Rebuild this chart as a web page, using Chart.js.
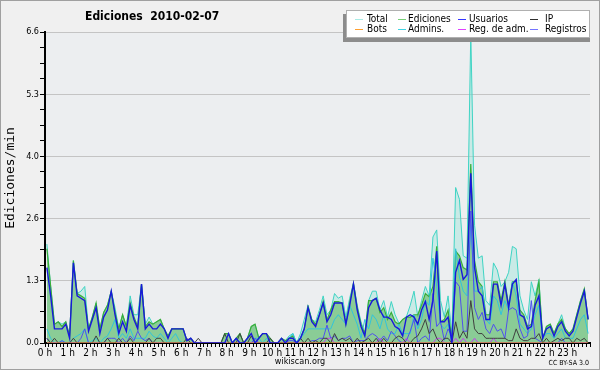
<!DOCTYPE html>
<html>
<head>
<meta charset="utf-8">
<script src="https://cdn.jsdelivr.net/npm/chart.js@4.4.1/dist/chart.umd.min.js"></script>
<style>
  html, body { margin: 0; padding: 0; background: #f0f0f0; }
  #wrap { width: 600px; height: 370px; }
</style>
</head>
<body>
<div id="wrap"><canvas id="chart" width="600" height="370"></canvas></div>
<script>
// one value per 10 minutes, 6 per row = one hour per row
const hourLabels = ["0 h", "1 h", "2 h", "3 h", "4 h", "5 h", "6 h", "7 h", "8 h", "9 h", "10 h", "11 h",
  "12 h", "13 h", "14 h", "15 h", "16 h", "17 h", "18 h", "19 h", "20 h", "21 h", "22 h", "23 h"];
const yTickLabels = ["0.0", "1.3", "2.6", "4.0", "5.3", "6.6"];

const total = [
  2.1, 1.2, 0.4, 0.45, 0.4, 0.45,
  0.15, 1.75, 1.05, 1.1, 1.2, 0.3,
  0.55, 0.85, 0.3, 0.65, 0.8, 1.1,
  0.75, 0.3, 0.6, 0.35, 1.0, 0.6,
  0.6, 1.25, 0.4, 0.55, 0.4, 0.45,
  0.5, 0.3, 0.15, 0.3, 0.3, 0.3,
  0.3, 0.05, 0.1, 0, 0, 0,
  0, 0, 0, 0, 0, 0.2,
  0.2, 0, 0.1, 0.2, 0, 0.1,
  0.35, 0.4, 0.1, 0.2, 0.2, 0.1,
  0, 0, 0.1, 0.05, 0.15, 0.2,
  0, 0.2, 0.5, 0.8, 0.5, 0.45,
  0.7, 1.0, 0.6, 0.7, 1.05, 0.95,
  1.0, 0.55, 0.95, 1.27, 0.8, 0.45,
  0.2, 0.9, 1.1, 1.1, 0.7, 0.9,
  0.55, 0.88, 0.6, 0.42, 0.5, 0.56,
  0.8, 1.1, 0.56, 0.9, 1.2, 1.0,
  2.25, 2.4, 0.9, 0.56, 1.0, 0.2,
  3.3, 3.05, 1.85, 1.8, 6.6, 2.5,
  1.8, 1.85, 0.9, 0.8, 1.7, 1.55,
  1.2, 1.3, 1.5, 2.05, 2.0, 1.0,
  0.7, 0.5, 1.3, 1.0, 1.35, 0.1,
  0.35, 0.4, 0.2, 0.4, 0.6, 0.3,
  0.2, 0.3, 0.6, 0.9, 1.15, 0.5
];

const ediciones = [
  2.0, 1.2, 0.4, 0.45, 0.35, 0.45,
  0.15, 1.75, 1.05, 1.0, 0.95, 0.3,
  0.55, 0.85, 0.3, 0.65, 0.8, 1.1,
  0.65, 0.3, 0.6, 0.35, 0.85, 0.55,
  0.35, 1.25, 0.35, 0.45, 0.4, 0.45,
  0.5, 0.3, 0.15, 0.3, 0.3, 0.3,
  0.3, 0.05, 0.1, 0, 0, 0,
  0, 0, 0, 0, 0, 0.2,
  0.2, 0, 0.1, 0.2, 0, 0.1,
  0.35, 0.4, 0.1, 0.2, 0.2, 0.1,
  0, 0, 0.1, 0.05, 0.1, 0.15,
  0, 0.1, 0.3, 0.77, 0.49, 0.4,
  0.6, 0.88, 0.49, 0.7, 0.88, 0.88,
  0.85, 0.42, 0.85, 1.27, 0.75, 0.4,
  0.2, 0.9, 0.9, 0.95, 0.65, 0.75,
  0.5, 0.65, 0.45, 0.4, 0.5, 0.55,
  0.55, 0.6, 0.6, 0.8, 1.05, 0.98,
  1.2, 2.05, 0.45, 0.5, 0.7, 0.05,
  1.95, 1.85, 1.6, 1.55, 3.8, 1.75,
  1.3, 1.2, 0.6, 0.6, 1.3, 1.3,
  0.9, 1.3, 0.8, 1.3, 1.3, 0.7,
  0.6, 0.35, 0.4, 0.9, 1.3, 0.1,
  0.35, 0.4, 0.2, 0.4, 0.5, 0.3,
  0.2, 0.3, 0.6, 0.9, 1.15, 0.5
];

const usuarios = [
  1.6, 1.0, 0.3, 0.3, 0.3, 0.4,
  0.1, 1.7, 1.0, 0.95, 0.9, 0.25,
  0.5, 0.75, 0.2, 0.55, 0.7, 1.1,
  0.6, 0.2, 0.45, 0.25, 0.8, 0.5,
  0.3, 1.25, 0.3, 0.4, 0.3, 0.3,
  0.4, 0.3, 0.1, 0.3, 0.3, 0.3,
  0.3, 0.05, 0.1, 0, 0, 0,
  0, 0, 0, 0, 0, 0,
  0.2, 0, 0.1, 0, 0, 0.1,
  0.2, 0, 0.1, 0.2, 0.2, 0,
  0, 0, 0.1, 0, 0.1, 0.1,
  0, 0.1, 0.3, 0.75, 0.45, 0.35,
  0.6, 0.85, 0.45, 0.6, 0.85, 0.85,
  0.85, 0.4, 0.8, 1.25, 0.7, 0.35,
  0.15, 0.75, 0.9, 0.95, 0.7, 0.55,
  0.55, 0.5, 0.35, 0.3, 0.15, 0.55,
  0.6, 0.55, 0.4, 0.7, 0.88, 0.5,
  0.9, 1.95, 0.45, 0.45, 0.55, 0,
  1.5, 1.75, 1.35, 1.45, 3.6, 1.6,
  1.1, 1.0, 0.5, 0.5, 1.25, 1.25,
  0.8, 1.25, 0.75, 1.25, 1.35, 0.6,
  0.55, 0.3, 0.35, 0.8, 1.0, 0.1,
  0.3, 0.35, 0.15, 0.35, 0.45, 0.25,
  0.15, 0.25, 0.55, 0.85, 1.1, 0.5
];

const ip = [
  0.1, 0, 0.1, 0, 0, 0,
  0, 0.1, 0, 0, 0, 0,
  0, 0.15, 0, 0, 0.1, 0,
  0, 0.1, 0, 0, 0.1, 0,
  0, 0, 0, 0.1, 0, 0.1,
  0.1, 0, 0, 0, 0, 0,
  0, 0.1, 0, 0, 0.1, 0,
  0, 0, 0, 0, 0, 0.2,
  0, 0, 0, 0.2, 0, 0,
  0.15, 0, 0, 0, 0, 0.1,
  0, 0, 0, 0, 0, 0,
  0, 0.1, 0, 0.1, 0, 0.05,
  0, 0.1, 0.1, 0, 0.2, 0.05,
  0.1, 0.05, 0.1, 0, 0.1, 0,
  0.05, 0.1, 0, 0.1, 0, 0.1,
  0, 0, 0.1, 0.15, 0.1, 0,
  0, 0.1, 0.15, 0.3, 0.5, 0.2,
  0.3, 0.1, 0, 0.1, 0.1, 0,
  0.45, 0.1, 0.25, 0.1, 0.9, 0.3,
  0.2, 0.2, 0.1, 0.1, 0.1, 0.1,
  0.1, 0.1, 0.05, 0.05, 0.3, 0.1,
  0.05, 0.05, 0.1, 0.1, 0.2, 0,
  0.1, 0, 0.05, 0.1, 0.05, 0.1,
  0.1, 0, 0.1, 0.05, 0.1, 0
];

const bots = new Array(144).fill(0);

const admins = [
  0.3, 0.1, 0, 0, 0.05, 0,
  0, 0.1, 0.15, 0.2, 0.3, 0,
  0.05, 0.1, 0, 0.1, 0.15, 0.3,
  0.5, 0.1, 0.2, 0.1, 0.3, 0.1,
  0.1, 0.1, 0.1, 0.25, 0.15, 0.1,
  0.2, 0.1, 0, 0.1, 0.2, 0.05,
  0, 0, 0, 0, 0, 0,
  0, 0, 0, 0, 0, 0,
  0, 0, 0.1, 0, 0, 0,
  0, 0.1, 0.1, 0, 0.1, 0,
  0, 0, 0, 0, 0.1, 0.2,
  0, 0.1, 0.2, 0.3, 0.3, 0.3,
  0.3, 0.3, 0.3, 0.3, 0.5, 0.6,
  0.5, 0.4, 0.8, 0.6, 0.4, 0.1,
  0.5, 0.3, 0.6, 0.5, 0.3, 0.6,
  0.3, 0.2, 0.2, 0.4, 0.2, 0.2,
  0.2, 0.6, 0.3, 0.5, 0.9, 0.8,
  1.8, 1.2, 0.4, 0.3, 0.4, 0,
  2.0, 1.4, 1.1, 1.0, 2.5, 1.1,
  1.1, 1.2, 0.5, 0.4, 1.0, 0.9,
  0.6, 0.9, 0.7, 1.3, 1.0, 0.4,
  0.3, 0.2, 0.3, 0.6, 0.8, 0.1,
  0.2, 0.2, 0.1, 0.2, 0.3, 0.1,
  0.1, 0.1, 0.3, 0.5, 0.6, 0.2
];

const regAdm = [
  0, 0, 0, 0, 0, 0,
  0, 0, 0, 0, 0, 0,
  0, 0, 0, 0, 0, 0,
  0, 0, 0, 0, 0, 0,
  0, 0, 0, 0, 0, 0,
  0, 0, 0, 0, 0, 0,
  0, 0, 0, 0, 0, 0,
  0, 0, 0, 0, 0, 0,
  0, 0, 0, 0, 0, 0,
  0, 0, 0, 0, 0, 0,
  0, 0, 0, 0, 0, 0,
  0, 0, 0, 0, 0, 0,
  0, 0, 0.1, 0.1, 0, 0,
  0, 0, 0, 0, 0, 0,
  0, 0, 0, 0, 0.1, 0,
  0, 0, 0, 0, 0, 0.1,
  0, 0, 0, 0, 0, 0,
  0, 0.1, 0.1, 0, 0, 0,
  0.1, 0, 0.1, 0, 0, 0.1,
  0, 0, 0, 0, 0.1, 0,
  0, 0, 0, 0, 0, 0,
  0, 0, 0, 0, 0, 0,
  0, 0, 0, 0, 0, 0,
  0, 0, 0, 0, 0, 0
];

const registros = [
  0.1, 0, 0, 0, 0.05, 0,
  0, 0, 0, 0.1, 0.3, 0,
  0, 0, 0, 0, 0.1, 0.1,
  0.1, 0, 0.1, 0, 0.15, 0.05,
  0.25, 0.1, 0.05, 0.1, 0, 0,
  0, 0, 0, 0, 0, 0,
  0, 0, 0, 0, 0, 0,
  0, 0, 0, 0, 0, 0,
  0, 0, 0, 0, 0, 0,
  0, 0.1, 0, 0, 0, 0,
  0, 0, 0, 0, 0.05, 0.05,
  0, 0, 0, 0, 0.05, 0.05,
  0.1, 0.1, 0.38, 0.1, 0.15, 0.05,
  0.1, 0.1, 0.15, 0, 0.05, 0.05,
  0.05, 0.15, 0.2, 0.15, 0.05, 0.15,
  0.05, 0.25, 0.15, 0.05, 0, 0.05,
  0.25, 0.5, 0, 0.1, 0.15, 0.05,
  1.05, 0.35, 0.45, 0.06, 0.3, 0.15,
  1.3, 1.2, 0.25, 0.25, 2.8, 0.75,
  0.5, 0.65, 0.3, 0.2, 0.4, 0.25,
  0.3, 0.1, 0.7, 0.75, 0.7, 0.3,
  0.1, 0.15, 0.9, 0.1, 0.05, 0,
  0, 0, 0, 0, 0.1, 0,
  0, 0, 0, 0, 0, 0
];

const titleText = "Ediciones  2010-02-07";
const yTitle = "Ediciones/min";

// points sit in the middle of each 10 minute slot
const pts = (arr) => arr.map((v, i) => ({ x: i + 0.5, y: v }));

const line = (label, arr, color, legendColor, width, order, extra) => Object.assign({
  label,
  data: pts(arr),
  borderColor: color,
  legendColor,
  borderWidth: width,
  pointRadius: 0,
  tension: 0,
  fill: false,
  order,
}, extra || {});

const datasets = [
  line("Total", total, "#3fd4c4", "#a8ece6", 1, 7, { fill: "origin", backgroundColor: "rgba(160,228,218,0.45)" }),
  line("Ediciones", ediciones, "#3aae3a", "#78cf78", 1.2, 6, { fill: "origin", backgroundColor: "rgba(96,184,96,0.6)" }),
  line("Usuarios", usuarios, "#1818dc", "#3535ff", 1.4, 0),
  line("IP", ip, "#404040", "#303030", 1, 2),
  line("Bots", bots, "#ff9a1a", "#ffa030", 1, 1),
  line("Admins.", admins, "#30c4dc", "#40d4e4", 1, 5),
  line("Reg. de adm.", regAdm, "#c83cf0", "#e040ff", 1, 3),
  line("Registros", registros, "#5050ee", "#7474ff", 1, 4),
];

const decor = {
  id: "decor",
  beforeDraw(chart) {
    const { ctx, chartArea: a } = chart;
    ctx.save();
    ctx.fillStyle = "#f0f0f0";
    ctx.fillRect(0, 0, chart.width, chart.height);
    ctx.fillStyle = "#eceef0";
    ctx.fillRect(a.left, a.top, a.right - a.left, a.bottom - a.top);
    ctx.strokeStyle = "#a0a0a0";
    ctx.lineWidth = 1;
    ctx.strokeRect(0.5, 0.5, chart.width - 1, chart.height - 1);
    ctx.restore();
  },
  afterDraw(chart) {
    const { ctx } = chart;
    ctx.save();
    ctx.fillStyle = "#000";
    ctx.textBaseline = "middle";

    ctx.font = 'bold 12px "DejaVu Sans Condensed", "DejaVu Sans"';
    ctx.textAlign = "left";
    ctx.fillText(titleText, 85, 17);

    ctx.font = '9px "DejaVu Sans Condensed", "DejaVu Sans"';
    ctx.textAlign = "center";
    ctx.fillText("wikiscan.org", 300, 362);

    ctx.font = '7px "DejaVu Sans Condensed", "DejaVu Sans"';
    ctx.textAlign = "right";
    ctx.fillText("CC BY-SA 3.0", 589, 363);

    ctx.save();
    ctx.translate(11, 178);
    ctx.rotate(-Math.PI / 2);
    ctx.font = '13px "DejaVu Sans Mono"';
    ctx.textAlign = "center";
    ctx.fillText(yTitle, 0, 0);
    ctx.restore();

    // legend box, shadow to the lower left
    ctx.fillStyle = "#8c8c8c";
    ctx.fillRect(343, 14, 247, 28);
    ctx.fillStyle = "#ffffff";
    ctx.fillRect(346, 10, 244, 28);
    ctx.strokeStyle = "#b0b0b0";
    ctx.lineWidth = 1;
    ctx.strokeRect(346.5, 10.5, 243, 27);

    const lineX = [355, 398, 458, 530];
    const textX = [367, 408, 469, 545];
    const rowY = [19, 29];
    ctx.font = '10px "DejaVu Sans Condensed", "DejaVu Sans"';
    ctx.textAlign = "left";
    chart.data.datasets.forEach((ds, k) => {
      const c = k % 4, r = Math.floor(k / 4);
      ctx.strokeStyle = ds.legendColor;
      ctx.beginPath();
      ctx.moveTo(lineX[c], rowY[r] + 0.5);
      ctx.lineTo(lineX[c] + 8, rowY[r] + 0.5);
      ctx.stroke();
      ctx.fillStyle = "#000";
      ctx.fillText(ds.label, textX[c], rowY[r] + 0.5);
    });
    ctx.restore();
  },
};

new Chart(document.getElementById("chart"), {
  type: "line",
  data: { datasets },
  plugins: [decor],
  options: {
    responsive: false,
    animation: false,
    events: [],
    layout: { padding: { top: 32, right: 10, left: 0, bottom: 0 } },
    plugins: {
      legend: { display: false },
      tooltip: { enabled: false },
      title: { display: false },
    },
    scales: {
      x: {
        type: "linear",
        min: 0,
        max: 144,
        z: 1,
        afterFit: (s) => { s.height = 27; },
        border: { color: "#000", width: 2 },
        grid: { drawOnChartArea: false, drawTicks: true, tickLength: 4, tickColor: "#000" },
        ticks: {
          stepSize: 1,
          autoSkip: false,
          maxRotation: 0,
          minRotation: 0,
          padding: 0,
          color: "#000",
          font: { family: '"DejaVu Sans Condensed", "DejaVu Sans"', size: 10 },
          callback: (v) => (v % 6 === 0 && v < 144 ? hourLabels[v / 6] : ""),
        },
      },
      y: {
        min: 0,
        max: 6.6,
        afterFit: (s) => { s.width = 45; },
        border: { color: "#000", width: 2 },
        grid: {
          color: (c) => (c.index > 0 && c.index % 4 === 0 ? "#c4c4c4" : "rgba(0,0,0,0)"),
          lineWidth: 1,
          drawTicks: true,
          tickLength: 5,
          tickColor: "#000",
        },
        ticks: {
          stepSize: 0.33,
          autoSkip: false,
          padding: 1,
          color: "#000",
          font: { family: '"DejaVu Sans Condensed", "DejaVu Sans"', size: 9 },
          callback: (v, i) => (i % 4 === 0 ? yTickLabels[i / 4] : ""),
        },
      },
    },
  },
});
</script>
</body>
</html>
